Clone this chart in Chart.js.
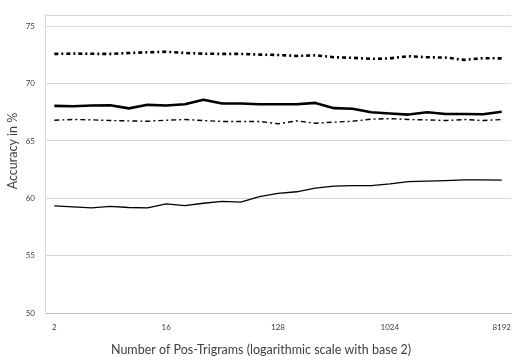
<!DOCTYPE html>
<html>
<head>
<meta charset="utf-8">
<script src="https://cdn.jsdelivr.net/npm/chart.js@4"></script>
<style>
  html, body { margin: 0; padding: 0; background: #fff; overflow: hidden; width: 519px; height: 356px; }
  canvas { display: block; }
</style>
</head>
<body>
<canvas id="c" width="521" height="356"></canvas>
<script>
// Number of POS trigrams used (half-octave steps from 2 to 8192)
const trigramCounts = [2, 3, 4, 6, 8, 11, 16, 23, 32, 45, 64, 91, 128, 181, 256, 362, 512, 724, 1024, 1448, 2048, 2896, 4096, 5793, 8192];
// Only these categories carry a visible tick label
const tickLabels = ['2', '16', '128', '1024', '8192'];
const yTicks = [50, 55, 60, 65, 70, 75];

// Accuracy (%) per configuration
const seriesDotted = [72.59, 72.62, 72.6, 72.59, 72.67, 72.73, 72.78, 72.67, 72.61, 72.59, 72.59, 72.53, 72.5, 72.41, 72.47, 72.3, 72.25, 72.16, 72.2, 72.39, 72.3, 72.27, 72.07, 72.22, 72.2];
const seriesThick = [68.06, 68.03, 68.09, 68.12, 67.84, 68.15, 68.09, 68.2, 68.6, 68.26, 68.26, 68.2, 68.2, 68.2, 68.32, 67.86, 67.81, 67.5, 67.4, 67.3, 67.5, 67.35, 67.35, 67.33, 67.55];
const seriesDashed = [66.81, 66.87, 66.84, 66.78, 66.75, 66.72, 66.81, 66.87, 66.78, 66.7, 66.7, 66.7, 66.5, 66.75, 66.55, 66.64, 66.72, 66.9, 66.95, 66.87, 66.84, 66.78, 66.87, 66.78, 66.87];
const seriesThin = [59.34, 59.26, 59.17, 59.29, 59.2, 59.17, 59.51, 59.37, 59.57, 59.74, 59.66, 60.14, 60.43, 60.57, 60.88, 61.06, 61.11, 61.11, 61.25, 61.45, 61.5, 61.55, 61.6, 61.6, 61.58];

const xTitle = 'Number of Pos-Trigrams (logarithmic scale with base 2)';
const yTitle = 'Accuracy in %';

const FONT = 'Lato, "Liberation Sans", sans-serif';
const TEXT = '#404040';
const GRID = '#d9d9d9';

// Top border of the plot area plus the two axis titles
const plotFrame = {
  id: 'plotFrame',
  beforeDatasetsDraw(chart) {
    const { ctx, chartArea: a } = chart;
    ctx.save();
    ctx.strokeStyle = GRID;
    ctx.lineWidth = 1;
    ctx.beginPath();
    ctx.moveTo(a.left, Math.round(a.top) + 0.5);
    ctx.lineTo(a.right, Math.round(a.top) + 0.5);
    ctx.stroke();
    ctx.restore();
  },
  afterDraw(chart) {
    const { ctx } = chart;
    ctx.save();
    ctx.fillStyle = TEXT;
    ctx.font = '12.5px ' + FONT;
    ctx.textAlign = 'center';
    ctx.textBaseline = 'middle';
    ctx.fillText(xTitle, 261, 350);
    ctx.translate(13, 151);
    ctx.rotate(-Math.PI / 2);
    ctx.fillText(yTitle, 0, 0);
    ctx.restore();
  }
};

const lineDs = (data, width, dash) => ({
  data,
  borderColor: '#000',
  backgroundColor: '#000',
  borderWidth: width,
  borderDash: dash,
  borderCapStyle: 'butt',
  borderJoinStyle: 'round',
  pointRadius: 0,
  tension: 0,
  fill: false
});

new Chart(document.getElementById('c'), {
  type: 'line',
  data: {
    labels: trigramCounts.map(String),
    datasets: [
      lineDs(seriesDotted, 2.6, [4, 3, 2, 3]),
      lineDs(seriesThick, 2.6, []),
      lineDs(seriesDashed, 1.4, [5, 3, 2, 3]),
      lineDs(seriesThin, 1.3, [])
    ]
  },
  options: {
    responsive: false,
    animation: false,
    layout: { padding: { top: 9, left: 0, right: 0, bottom: 0 } },
    plugins: { legend: { display: false }, tooltip: { enabled: false } },
    scales: {
      x: {
        type: 'category',
        offset: true,
        grid: { display: false, drawTicks: false },
        border: { display: true, color: '#bfbfbf', width: 1 },
        ticks: {
          autoSkip: false,
          maxRotation: 0,
          padding: 10,
          color: TEXT,
          font: { family: FONT, size: 8 },
          callback(value) {
            const lbl = this.getLabelForValue(value);
            return tickLabels.includes(lbl) ? lbl : '';
          }
        },
        afterFit(scale) { scale.height = 43; }
      },
      y: {
        min: 50,
        max: 76,
        grid: { color: GRID, lineWidth: 1, drawTicks: false },
        border: { display: true, color: GRID, width: 1 },
        ticks: {
          stepSize: 5,
          padding: 10,
          color: TEXT,
          font: { family: FONT, size: 8 }
        },
        afterBuildTicks(scale) {
          scale.ticks = yTicks.map(v => ({ value: v }));
        },
        afterFit(scale) { scale.width = 45; }
      }
    }
  },
  plugins: [plotFrame]
});
</script>
</body>
</html>
